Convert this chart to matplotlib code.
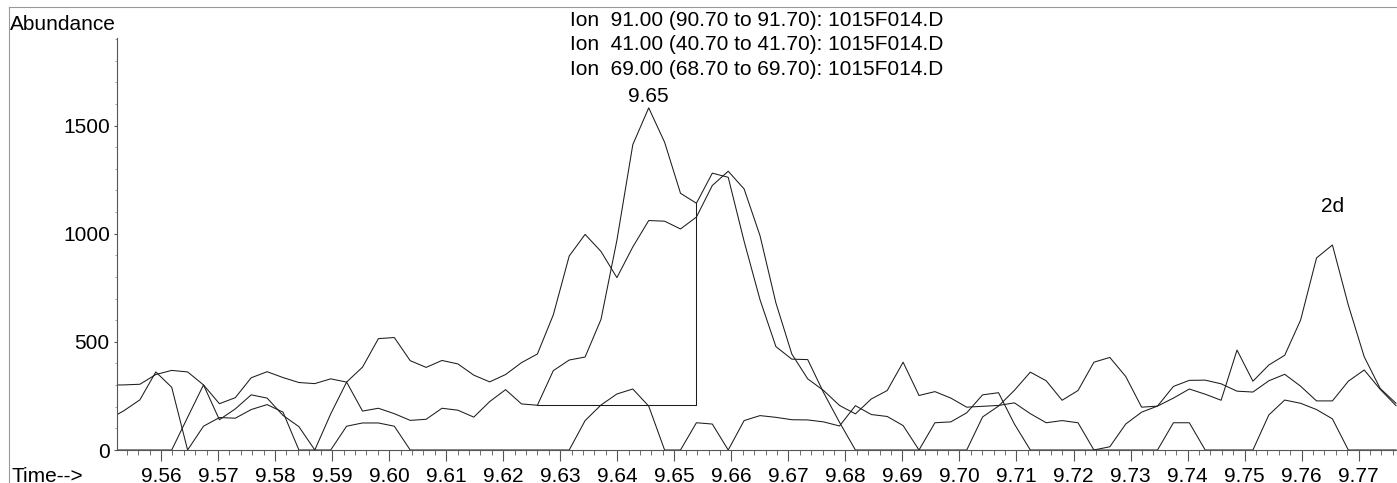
import matplotlib
matplotlib.use('Agg')
import matplotlib.pyplot as plt
import numpy as np
from matplotlib.lines import Line2D
from matplotlib.ticker import MultipleLocator, FixedLocator, FormatStrFormatter

plt.rcParams['font.family'] = ['Liberation Sans', 'DejaVu Sans']

# scan timing (min)
scan_start = 9.55072
scan_step = 0.002788

# extracted ion abundances, one value per scan
ion91 = [0, 0, 0, 0, 0, 151, 301, 140, 190, 255,
         240, 160, 108, 0, 167, 314, 180, 193, 168, 137,
         142, 193, 184, 152, 224, 279, 213, 207, 367, 416,
         430, 604, 970, 1412, 1582, 1423, 1187, 1141, 1280, 1261,
         965, 695, 478, 420, 418, 265, 128, 0, 0, 0,
         0, 0, 0, 0, 0, 153, 203, 276, 360, 320,
         230, 275, 406, 428, 340, 198, 203, 294, 322, 323,
         306, 272, 268, 320, 350, 295, 227, 227, 318, 370,
         281, 205]
ion41 = [300, 301, 304, 349, 368, 361, 301, 214, 242, 334,
         362, 335, 312, 307, 329, 314, 383, 515, 520, 413,
         382, 414, 398, 346, 315, 349, 404, 444, 625, 897,
         997, 918, 797, 939, 1061, 1058, 1022, 1077, 1223, 1289,
         1207, 991, 680, 444, 329, 275, 206, 167, 236, 275,
         406, 252, 270, 240, 198, 202, 206, 218, 168, 126,
         136, 126, 0, 15, 120, 175, 203, 240, 282, 258,
         230, 462, 318, 393, 438, 601, 888, 948, 670, 431,
         285, 216]
ion69 = [140, 182, 232, 361, 290, 0, 110, 150, 147, 187,
         210, 175, 0, 0, 0, 110, 125, 125, 110, 0,
         0, 0, 0, 0, 0, 0, 0, 0, 0, 0,
         136, 208, 259, 282, 203, 0, 0, 126, 120, 0,
         136, 159, 151, 140, 139, 130, 111, 205, 164, 155,
         113, 0, 126, 130, 172, 255, 265, 120, 0, 0,
         0, 0, 0, 0, 0, 0, 0, 126, 126, 0,
         0, 0, 0, 162, 231, 216, 187, 144, 0, 0,
         0, 0]

titles = ['Ion  91.00 (90.70 to 91.70): 1015F014.D',
          'Ion  41.00 (40.70 to 41.70): 1015F014.D',
          'Ion  69.00 (68.70 to 69.70): 1015F014.D']

# integration of the 91 peak: baseline start / drop-line scans
int_start, int_end = 27, 37

times = scan_start + scan_step * np.arange(len(ion91))
ion91 = np.array(ion91)
ion41 = np.array(ion41)
ion69 = np.array(ion69)

W, H = 1397, 483
fig = plt.figure(figsize=(W / 100, H / 100), dpi=100)
ax = fig.add_axes([117 / W, 33 / H, 1 - 117 / W, 412 / H])

lc = '#1c1c1c'
for y in (ion91, ion41, ion69):
    ax.plot(times, y, color=lc, lw=0.75)

# baseline + drop line of the integrated peak
ax.plot([times[int_start], times[int_end], times[int_end]],
        [ion91[int_start], ion91[int_start], ion91[int_end]],
        color=lc, lw=0.75)

ipk = int(np.argmax(ion91))
ax.annotate(f'{times[ipk]:.2f}', xy=(times[ipk], ion91[ipk]),
            xytext=(0, 4), textcoords='offset points',
            ha='center', va='baseline', fontsize=15)
# apex marker above the retention-time label
ax.plot([times[ipk]] * 2, [1778, 1805], color=lc, lw=0.8)

i2d = 60 + int(np.argmax(ion41[60:]))
ax.annotate('2d', xy=(times[i2d], ion41[i2d]),
            xytext=(0, 24), textcoords='offset points',
            ha='center', va='baseline', fontsize=15)

ax.set_xlim(9.55228, 9.77672)
ax.set_ylim(0, 1905)
ax.xaxis.set_major_locator(MultipleLocator(0.01))
ax.xaxis.set_minor_locator(MultipleLocator(0.002))
ax.xaxis.set_major_formatter(FormatStrFormatter('%.2f'))
ax.yaxis.set_major_locator(FixedLocator([0, 500, 1000, 1500]))
ax.yaxis.set_minor_locator(MultipleLocator(100))

ax.tick_params(axis='x', which='major', direction='out', length=8,
               width=0.8, pad=4, labelsize=15, color='#555555')
ax.tick_params(axis='x', which='minor', direction='out', length=3.6,
               width=0.6, color='#555555')
ax.tick_params(axis='y', which='major', direction='out', length=2.2,
               width=0.8, pad=3, labelsize=15, color='#555555')
ax.tick_params(axis='y', which='minor', direction='out', length=1.2,
               width=0.5, color='#777777')

for s in ('top', 'right'):
    ax.spines[s].set_visible(False)
for s in ('left', 'bottom'):
    ax.spines[s].set_color('#555555')
    ax.spines[s].set_linewidth(0.8)

fig.text(10 / W, 1 - 30 / H, 'Abundance', fontsize=15, va='baseline')
fig.text(12 / W, 1.5 / H, 'Time-->', fontsize=15, va='baseline')
for i, t in enumerate(titles):
    fig.text(757 / W, 1 - (26 + 24.5 * i) / H, t, fontsize=15,
             ha='center', va='baseline')

# page frame
fig.add_artist(Line2D([9 / W, 1], [1 - 6.5 / H] * 2, color='#999999', lw=0.8))
fig.add_artist(Line2D([9 / W] * 2, [0, 1 - 6.5 / H], color='#999999', lw=0.8))

fig.savefig('out.png', dpi=100)
